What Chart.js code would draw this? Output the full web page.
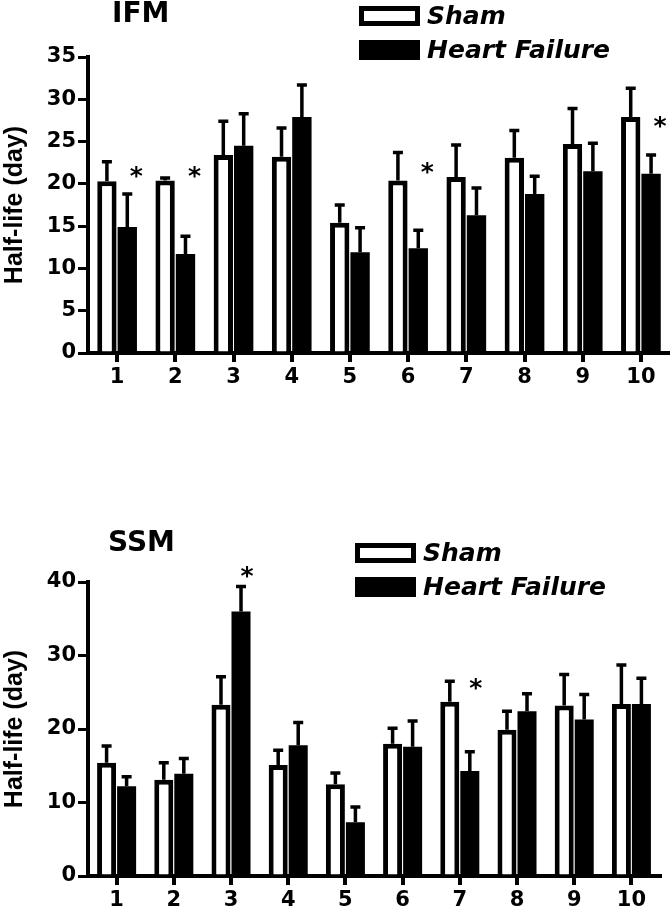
<!DOCTYPE html>
<html>
<head>
<meta charset="utf-8">
<script src="https://cdn.jsdelivr.net/npm/chart.js@4.4.1/dist/chart.umd.min.js"></script>
<style>
body { margin: 0; background: #fff; }
canvas { display: block; }
</style>
</head>
<body>
<canvas class="js-ifm" width="670" height="400"></canvas>
<canvas class="js-ssm" width="670" height="507"></canvas>
<script>
const LABELS = ['1', '2', '3', '4', '5', '6', '7', '8', '9', '10'];
const SERIES_NAMES = ['Sham', 'Heart Failure'];

// IFM panel
const IFM_SHAM = [20.3, 20.4, 23.4, 23.2, 15.4, 20.4, 20.8, 23.1, 24.7, 27.9];
const IFM_SHAM_ERR = [2.3, 0.3, 4.0, 3.4, 2.1, 3.3, 3.8, 3.2, 4.2, 3.4];
const IFM_HF = [14.9, 11.7, 24.5, 27.9, 11.9, 12.4, 16.3, 18.8, 21.5, 21.2];
const IFM_HF_ERR = [3.9, 2.1, 3.8, 3.8, 2.9, 2.1, 3.2, 2.1, 3.3, 2.2];
const IFM_STARS = [21.4, 21.4, null, null, null, 21.9, null, null, null, 27.3]; // level of the * in data units
const IFM_Y_TICKS = [0, 5, 10, 15, 20, 25, 30, 35];

// SSM panel
const SSM_SHAM = [15.4, 13.1, 23.3, 15.1, 12.5, 18.0, 23.7, 19.9, 23.2, 23.4];
const SSM_SHAM_ERR = [2.3, 2.3, 3.8, 2.0, 1.5, 2.1, 2.8, 2.5, 4.2, 5.3];
const SSM_HF = [12.2, 13.9, 36.0, 17.8, 7.3, 17.6, 14.3, 22.4, 21.3, 23.4];
const SSM_HF_ERR = [1.3, 2.1, 3.4, 3.1, 2.1, 3.5, 2.6, 2.4, 3.4, 3.5];
const SSM_STARS = [null, null, 41.4, null, null, null, 26.1, null, null, null];
const SSM_Y_TICKS = [0, 10, 20, 30, 40];

Chart.defaults.color = '#000';
Chart.defaults.font.family = 'DejaVu Sans';
Chart.defaults.font.weight = 'bold';

// upper-only error bars with a short cap
const errorBars = {
    id: 'errorBars',
    afterDatasetsDraw(chart) {
        const ctx = chart.ctx;
        const y = chart.scales.y;
        chart.data.datasets.forEach((ds, i) => {
            chart.getDatasetMeta(i).data.forEach((bar, j) => {
                const top = y.getPixelForValue(ds.data[j] + ds.errors[j]);
                ctx.save();
                ctx.strokeStyle = '#000';
                ctx.lineWidth = 3.5;
                ctx.beginPath();
                ctx.moveTo(bar.x, bar.y);
                ctx.lineTo(bar.x, top);
                ctx.moveTo(bar.x - 5, top);
                ctx.lineTo(bar.x + 5, top);
                ctx.stroke();
                ctx.restore();
            });
        });
    }
};

// significance asterisks, next to the Heart Failure bar
const stars = {
    id: 'stars',
    afterDatasetsDraw(chart, args, opts) {
        const ctx = chart.ctx;
        const hfBars = chart.getDatasetMeta(1).data;
        ctx.save();
        ctx.font = 'bold 25px "DejaVu Sans"';
        ctx.textAlign = 'center';
        ctx.textBaseline = 'alphabetic';
        opts.levels.forEach((level, j) => {
            if (level === null) return;
            ctx.fillText('*', hfBars[j].x + opts.dx, chart.scales.y.getPixelForValue(level) + 12);
        });
        ctx.restore();
    }
};

// panel title and the stacked legend at top right
const header = {
    id: 'header',
    afterDraw(chart, args, opts) {
        const ctx = chart.ctx;
        ctx.save();
        ctx.fillStyle = '#000';
        ctx.font = 'bold 28px "DejaVu Sans"';
        ctx.textBaseline = 'alphabetic';
        ctx.fillText(opts.title, opts.titleX, opts.titleY);

        chart.data.datasets.forEach((ds, i) => {
            const top = opts.legendY + i * opts.rowGap;
            ctx.fillStyle = ds.borderColor;
            ctx.fillRect(opts.legendX, top, 61, 20);
            ctx.fillStyle = ds.backgroundColor;
            ctx.fillRect(opts.legendX + 5, top + 5, 51, 10);
            ctx.fillStyle = '#000';
            ctx.font = 'italic bold 25px "DejaVu Sans"';
            ctx.fillText(ds.label, opts.legendX + 68, top + 18);
        });
        ctx.restore();
    }
};

function makeChart(canvas, cfg) {
    return new Chart(canvas.getContext('2d'), {
        type: 'bar',
        data: {
            labels: LABELS,
            datasets: [{
                label: SERIES_NAMES[0],
                data: cfg.sham,
                errors: cfg.shamErr,
                backgroundColor: '#fff',
                borderColor: '#000',
                borderWidth: 5,
                categoryPercentage: 0.7,
                barPercentage: 0.95
            }, {
                label: SERIES_NAMES[1],
                data: cfg.hf,
                errors: cfg.hfErr,
                backgroundColor: '#000',
                borderColor: '#000',
                borderWidth: 0,
                categoryPercentage: 0.7,
                barPercentage: 0.95
            }]
        },
        options: {
            responsive: false,
            animation: false,
            layout: { padding: { top: cfg.top, right: cfg.right, left: 0, bottom: 0 } },
            plugins: {
                legend: { display: false },
                tooltip: { enabled: false },
                stars: { levels: cfg.stars, dx: cfg.starDx },
                header: cfg.header
            },
            scales: {
                x: {
                    grid: { offset: false, drawOnChartArea: false, color: '#000', lineWidth: 4, tickLength: 9 },
                    border: { color: '#000', width: 4 },
                    ticks: { font: { size: 21, weight: 'bold' }, padding: 3, maxRotation: 0 },
                    afterFit(scale) { scale.height = cfg.xHeight; }
                },
                y: {
                    min: 0,
                    max: cfg.yMax,
                    grid: { drawOnChartArea: false, color: '#000', lineWidth: 3, tickLength: 10 },
                    border: { color: '#000', width: 4 },
                    ticks: { font: { size: 21, weight: 'bold' }, padding: 2 },
                    title: {
                        display: true,
                        text: 'Half-life (day)',
                        font: { family: 'Liberation Sans', size: 25, weight: 'bold' },
                        padding: 0
                    },
                    afterBuildTicks(scale) { scale.ticks = cfg.yTicks.map(v => ({ value: v })); },
                    afterFit(scale) { scale.width = 88; }
                }
            }
        },
        plugins: [errorBars, stars, header]
    });
}

makeChart(document.querySelector('.js-ifm'), {
    sham: IFM_SHAM, shamErr: IFM_SHAM_ERR, hf: IFM_HF, hfErr: IFM_HF_ERR,
    stars: IFM_STARS, starDx: 9, yTicks: IFM_Y_TICKS, yMax: 35,
    top: 57, right: 0, xHeight: 47,
    header: { title: 'IFM', titleX: 112, titleY: 22, legendX: 359, legendY: 6, rowGap: 34 }
});

makeChart(document.querySelector('.js-ssm'), {
    sham: SSM_SHAM, shamErr: SSM_SHAM_ERR, hf: SSM_HF, hfErr: SSM_HF_ERR,
    stars: SSM_STARS, starDx: 6, yTicks: SSM_Y_TICKS, yMax: 40,
    top: 182, right: 10, xHeight: 31,
    header: { title: 'SSM', titleX: 108, titleY: 151, legendX: 355, legendY: 143, rowGap: 34 }
});
</script>
</body>
</html>
